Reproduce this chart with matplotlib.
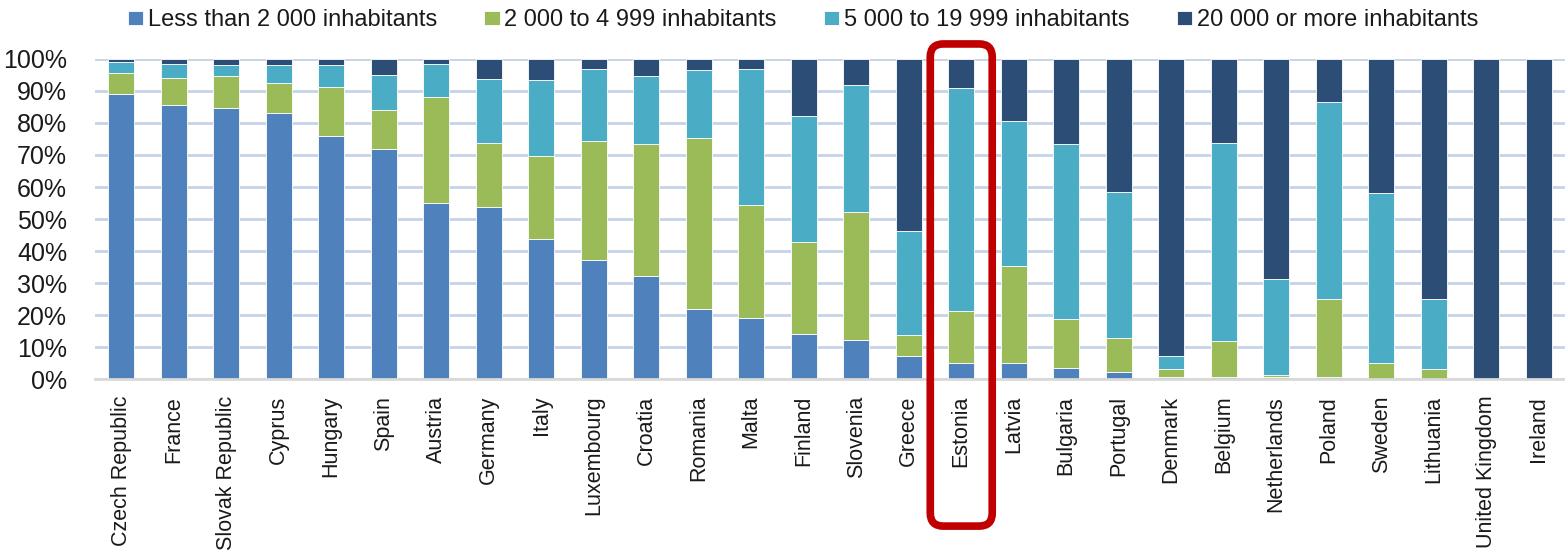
import matplotlib
matplotlib.use("Agg")
import matplotlib.pyplot as plt
from matplotlib.patches import FancyBboxPatch
from matplotlib.transforms import IdentityTransform
from matplotlib.ticker import FuncFormatter
from matplotlib import font_manager

# data (share of population, %)
countries = ["Czech Republic", "France", "Slovak Republic", "Cyprus", "Hungary",
             "Spain", "Austria", "Germany", "Italy", "Luxembourg", "Croatia",
             "Romania", "Malta", "Finland", "Slovenia", "Greece", "Estonia",
             "Latvia", "Bulgaria", "Portugal", "Denmark", "Belgium",
             "Netherlands", "Poland", "Sweden", "Lithuania", "United Kingdom",
             "Ireland"]
less_2000 = [89.1, 85.5, 84.8, 83.1, 76.0, 72.0, 55.0, 53.6, 43.8, 37.1, 32.3,
             22.0, 19.0, 14.0, 12.1, 7.3, 4.9, 4.9, 3.6, 2.2, 0.8, 0.7, 0.5,
             0.5, 0.1, 0.0, 0.0, 0.0]
from_2000 = [6.5, 8.6, 9.8, 9.4, 15.3, 11.9, 33.1, 20.1, 26.0, 37.2, 41.0,
             53.3, 35.5, 28.8, 40.1, 6.5, 16.5, 30.3, 15.3, 10.7, 2.3, 11.3,
             0.9, 24.6, 5.0, 3.3, 0.0, 0.0]
from_5000 = [3.3, 4.4, 3.4, 5.5, 6.7, 11.1, 10.4, 20.0, 23.6, 22.7, 21.3,
             21.2, 42.5, 39.5, 39.6, 32.6, 69.6, 45.3, 54.6, 45.6, 4.1, 61.9,
             29.9, 61.3, 53.1, 21.6, 0.0, 0.0]
over_20000 = [1.1, 1.5, 2.0, 2.0, 2.0, 5.0, 1.5, 6.3, 6.6, 3.0, 5.4, 3.5, 3.0,
              17.7, 8.2, 53.6, 9.0, 19.5, 26.5, 41.5, 92.8, 26.1, 68.7, 13.6,
              41.8, 75.1, 100.0, 100.0]
labels = ["Less than 2 000 inhabitants", "2 000 to 4 999 inhabitants",
          "5 000 to 19 999 inhabitants", "20 000 or more inhabitants"]
highlight = "Estonia"

COLORS = ["#4F81BD", "#9BBB59", "#4BACC6", "#2C4D75"]
GRID = "#C5D4E7"
TEXT = "#1A1A1A"
RED = "#C00000"

names = {f.name for f in font_manager.fontManager.ttflist}
narrow = "Liberation Sans Narrow" if "Liberation Sans Narrow" in names else "Liberation Sans"
ysize = 20 if narrow == "Liberation Sans Narrow" else 18
plt.rcParams["font.family"] = ["Liberation Sans", "DejaVu Sans"]

fig = plt.figure(figsize=(15.65, 5.51), dpi=100)
ax = fig.add_axes([0.0607, 0.312, 0.9393, 0.581])

x = list(range(len(countries)))
bottom = [0.0] * len(countries)
for vals, col, lab in zip([less_2000, from_2000, from_5000, over_20000], COLORS, labels):
    ax.bar(x, vals, width=0.5, bottom=bottom, color=col, edgecolor="white",
           linewidth=0.6, label=lab, zorder=3)
    bottom = [b + v for b, v in zip(bottom, vals)]

ax.set_xlim(-0.5, len(countries) - 0.5)
ax.set_ylim(0, 100)
ax.set_yticks(range(0, 101, 10))
ax.yaxis.set_major_formatter(FuncFormatter(lambda v, p: f"{v:.0f}%"))
ax.grid(axis="y", color=GRID, linewidth=2, zorder=0)
ax.set_axisbelow(True)
for s in ["top", "right", "left"]:
    ax.spines[s].set_visible(False)
ax.spines["bottom"].set_color("#D9D9D9")
ax.spines["bottom"].set_linewidth(2)
ax.spines["bottom"].set_zorder(4)

ax.set_xticks(x)
ax.set_xticklabels(countries, rotation=90, fontsize=15.5, color=TEXT)
ax.tick_params(axis="x", length=0, pad=12)
ax.tick_params(axis="y", length=0, pad=20, labelsize=ysize, labelcolor=TEXT)
for t in ax.get_yticklabels():
    t.set_family([narrow, "DejaVu Sans"])

fig.legend(loc="center", bbox_to_anchor=(0.513, 0.963), ncol=4, frameon=False,
           fontsize=17, handlelength=0.65, handleheight=0.5,
           handletextpad=0.2, columnspacing=2.0, labelcolor=TEXT)

# red rounded box around the highlighted country
i = countries.index(highlight)
fig.canvas.draw()
xl, y_bot = ax.transData.transform((i - 0.59, 0))
xr, y_top = ax.transData.transform((i + 0.59, 100))
box = FancyBboxPatch((xl, y_bot - 147), xr - xl, (y_top + 15) - (y_bot - 147),
                     boxstyle="round,pad=0,rounding_size=13",
                     facecolor="none", edgecolor=RED, linewidth=5.5,
                     transform=IdentityTransform(), clip_on=False, zorder=10)
fig.add_artist(box)

fig.savefig("out.png", dpi=100)
